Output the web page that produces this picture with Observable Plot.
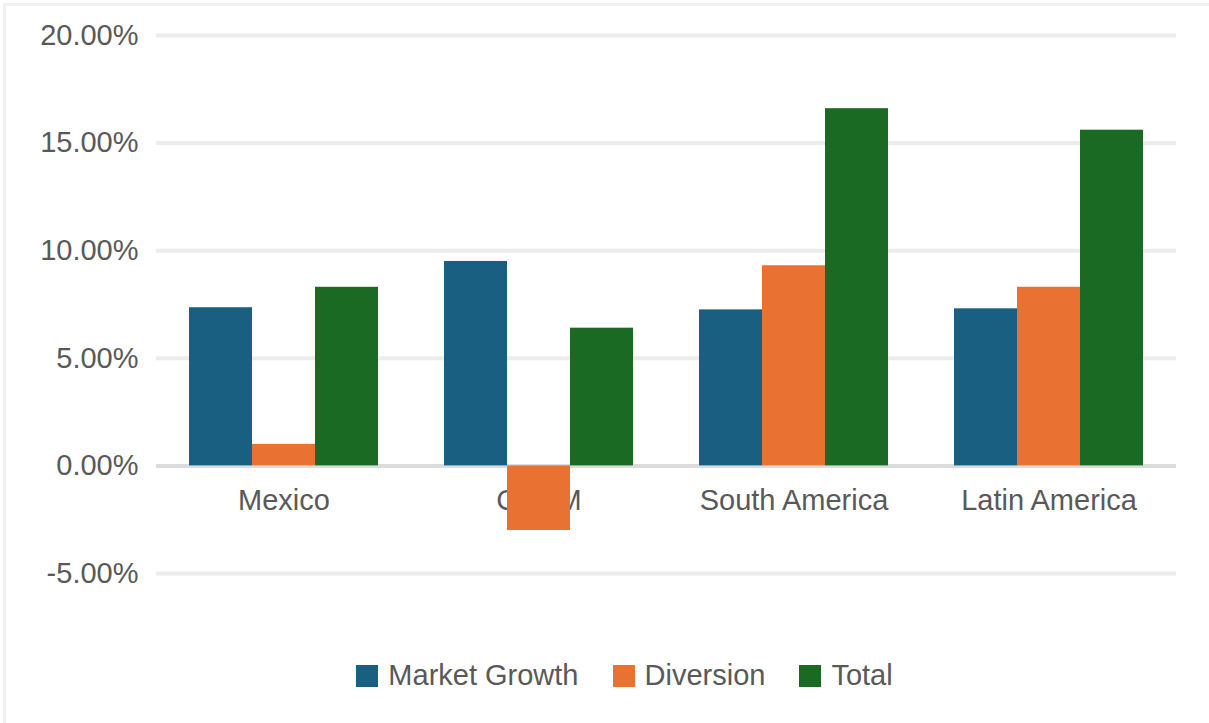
<!DOCTYPE html>
<html>
<head>
<meta charset="utf-8">
<script src="https://cdn.jsdelivr.net/npm/d3@7"></script>
<script src="https://cdn.jsdelivr.net/npm/@observablehq/plot@0.6"></script>
<style>
  html, body { margin: 0; padding: 0; background: #fff; }
  body { width: 1209px; height: 723px; position: relative; overflow: hidden; font-family: Arial, "Liberation Sans", sans-serif; }
  #frame { position: absolute; left: 3px; top: 3px; right: 0; bottom: 0; border-top: 3px solid #f0f0f0; border-left: 3px solid #f0f0f0; pointer-events: none; }
  #chart { position: absolute; left: 0; top: 0; }
  #legend { position: absolute; left: 0; top: 659px; width: 1249px; display: flex; justify-content: center; align-items: center; font-size: 29px; color: #595959; }
  .item { display: flex; align-items: center; margin: 0 17px; }
  .sw { width: 22px; height: 22px; margin-right: 10px; }
</style>
</head>
<body>
<div id="chart"></div>
<div id="legend"></div>
<div id="frame"></div>
<script>
const categories = ["Mexico", "CACM", "South America", "Latin America"];
const series = ["Market Growth", "Diversion", "Total"];
const marketGrowth = [7.35, 9.5, 7.25, 7.3];
const diversion = [1.0, -3.0, 9.3, 8.3];
const total = [8.3, 6.4, 16.6, 15.6];
const colors = ["#185f82", "#e97132", "#1b6a23"];
const yTicks = [-5, 0, 5, 10, 15, 20];

const valuesBySeries = [marketGrowth, diversion, total];
const data = categories.flatMap((c, i) =>
  series.map((s, j) => ({category: c, series: s, value: valuesBySeries[j][i]}))
);

const chart = Plot.plot({
  width: 1209,
  height: 630,
  marginLeft: 155,
  marginRight: 31,
  marginTop: 35,
  marginBottom: 57,
  style: {fontFamily: "Arial, 'Liberation Sans', sans-serif", background: "transparent"},
  fx: {domain: categories, paddingInner: 0.25, paddingOuter: 0.125, axis: null},
  x: {domain: series, padding: 0, axis: null},
  y: {domain: [-5, 20]},
  color: {domain: series, range: colors},
  marks: [
    Plot.ruleY(yTicks.filter(t => t !== 0), {stroke: "#ececec", strokeWidth: 4, insetLeft: -32, insetRight: -32}),
    Plot.ruleY([0], {stroke: "#dcdcdc", strokeWidth: 4, insetLeft: -32, insetRight: -32}),
    Plot.axisY({ticks: yTicks, tickFormat: d => d.toFixed(2) + "%", tickSize: 0, tickPadding: 50, fontSize: 29, color: "#595959", label: null}),
    Plot.text(categories, {fx: d => d, y: d => 0, text: d => d, dy: 35, fontSize: 29, fill: "#595959"}),
    Plot.barY(data, {fx: "category", x: "series", y: "value", fill: "series"})
  ]
});
document.getElementById("chart").appendChild(chart);

const legend = document.getElementById("legend");
series.forEach((s, i) => {
  const item = document.createElement("div");
  item.className = "item";
  const sw = document.createElement("div");
  sw.className = "sw";
  sw.style.background = colors[i];
  const label = document.createElement("span");
  label.textContent = s;
  item.appendChild(sw);
  item.appendChild(label);
  legend.appendChild(item);
});
</script>
</body>
</html>
